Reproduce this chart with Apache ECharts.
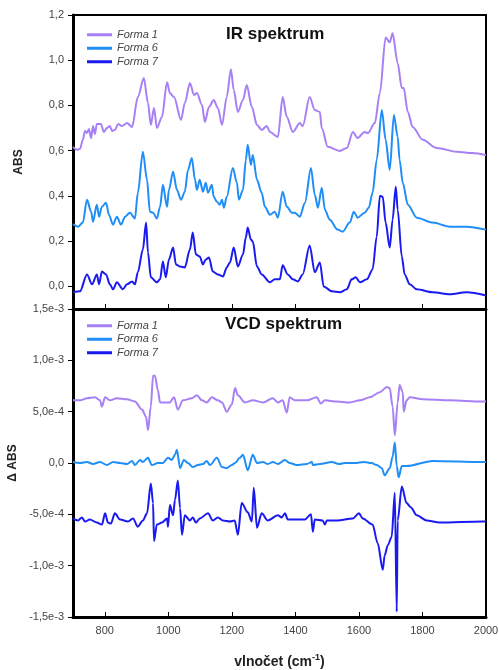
<!DOCTYPE html>
<html>
<head>
<meta charset="utf-8">
<script src="https://cdn.jsdelivr.net/npm/echarts@6/dist/echarts.min.js"></script>
<style>
  html, body { margin: 0; padding: 0; background: #fff; }
  #main { width: 499px; height: 670px; }
</style>
</head>
<body>
<div id="main"></div>
<script>
// wavenumber axis (cm-1)
const xTicks = [800, 1000, 1200, 1400, 1600, 1800, 2000];
const irTicks = [0, 0.2, 0.4, 0.6, 0.8, 1.0, 1.2];
// VCD axis is kept in units of 1e-4
const vcdTicks = [-15, -10, -5, 0, 5, 10, 15];
const vcdTickLabels = ['-1,5e-3', '-1,0e-3', '-5,0e-4', '0,0', '5,0e-4', '1,0e-3', '1,5e-3'];
const names = ['Forma 1', 'Forma 6', 'Forma 7'];
const colors = ['#a680f4', '#1f8ef6', '#1a1af0'];

// IR spektrum, ABS
const irForma1 = [[700,0.617],[713,0.604],[722,0.608],[731,0.648],[738,0.687],[744,0.678],[750,0.696],[757,0.656],[763,0.709],[769,0.674],[775,0.718],[788,0.718],[797,0.683],[807,0.700],[816,0.709],[823,0.687],[832,0.692],[842,0.718],[854,0.709],[870,0.722],[886,0.705],[904,0.837],[923,0.921],[936,0.811],[945,0.714],[955,0.789],[964,0.700],[980,0.749],[996,0.903],[1005,0.855],[1018,0.837],[1040,0.736],[1052,0.811],[1068,0.899],[1081,0.846],[1090,0.855],[1106,0.802],[1115,0.727],[1128,0.793],[1143,0.824],[1156,0.789],[1169,0.714],[1184,0.837],[1197,0.960],[1206,0.868],[1219,0.771],[1235,0.824],[1247,0.890],[1263,0.793],[1279,0.714],[1294,0.692],[1310,0.709],[1320,0.683],[1345,0.661],[1360,0.837],[1373,0.749],[1392,0.683],[1414,0.722],[1423,0.709],[1445,0.837],[1461,0.780],[1477,0.771],[1483,0.700],[1502,0.617],[1540,0.599],[1562,0.612],[1581,0.683],[1596,0.656],[1618,0.683],[1628,0.678],[1650,0.722],[1666,0.855],[1684,1.101],[1697,1.079],[1706,1.119],[1722,0.987],[1735,0.877],[1741,0.877],[1754,0.771],[1769,0.705],[1801,0.648],[1845,0.612],[1908,0.595],[1958,0.590],[2000,0.581]];
const irForma6 = [[700,0.275],[716,0.264],[731,0.282],[744,0.383],[757,0.330],[763,0.286],[775,0.361],[782,0.308],[791,0.352],[804,0.370],[813,0.317],[826,0.273],[838,0.308],[851,0.273],[864,0.308],[879,0.326],[895,0.300],[904,0.414],[920,0.595],[933,0.471],[942,0.330],[952,0.326],[964,0.300],[974,0.352],[983,0.449],[996,0.352],[1002,0.427],[1015,0.507],[1027,0.427],[1040,0.383],[1052,0.419],[1062,0.515],[1074,0.568],[1084,0.471],[1090,0.427],[1099,0.471],[1109,0.419],[1118,0.458],[1125,0.414],[1137,0.449],[1143,0.396],[1153,0.374],[1162,0.361],[1169,0.383],[1175,0.348],[1184,0.396],[1203,0.524],[1216,0.458],[1222,0.383],[1235,0.427],[1244,0.559],[1250,0.626],[1260,0.537],[1266,0.581],[1279,0.471],[1294,0.414],[1304,0.352],[1320,0.317],[1335,0.330],[1345,0.304],[1360,0.419],[1373,0.352],[1389,0.326],[1398,0.326],[1414,0.308],[1430,0.370],[1449,0.524],[1461,0.405],[1471,0.348],[1483,0.436],[1493,0.339],[1508,0.295],[1533,0.251],[1549,0.242],[1571,0.282],[1584,0.330],[1596,0.304],[1618,0.326],[1631,0.348],[1643,0.414],[1656,0.559],[1672,0.780],[1684,0.648],[1697,0.515],[1710,0.758],[1722,0.661],[1728,0.559],[1738,0.458],[1754,0.361],[1782,0.304],[1832,0.282],[1886,0.264],[1939,0.264],[2000,0.251]];
const irForma7 = [[700,-0.026],[722,-0.022],[744,0.053],[760,0.009],[775,0.053],[782,0.009],[791,0.066],[804,0.053],[816,0.009],[826,-0.013],[838,0.018],[857,-0.013],[870,0.009],[886,0.022],[895,0.009],[904,0.062],[920,0.163],[930,0.282],[936,0.150],[945,0.040],[964,0.018],[974,0.031],[983,0.110],[992,0.040],[1002,0.119],[1015,0.172],[1024,0.097],[1037,0.088],[1052,0.084],[1068,0.163],[1077,0.238],[1087,0.141],[1099,0.132],[1109,0.097],[1118,0.119],[1128,0.128],[1140,0.066],[1156,0.053],[1172,0.044],[1184,0.084],[1194,0.106],[1206,0.172],[1219,0.088],[1235,0.141],[1244,0.216],[1250,0.260],[1260,0.207],[1266,0.198],[1279,0.088],[1294,0.053],[1320,0.018],[1335,0.031],[1351,0.031],[1360,0.093],[1376,0.053],[1392,0.031],[1408,0.022],[1423,0.053],[1445,0.181],[1461,0.062],[1477,0.106],[1489,0.000],[1515,-0.022],[1540,-0.026],[1562,-0.013],[1577,0.031],[1590,0.040],[1603,0.018],[1625,0.031],[1643,0.075],[1656,0.220],[1666,0.401],[1675,0.396],[1684,0.282],[1697,0.172],[1706,0.295],[1716,0.441],[1722,0.339],[1735,0.132],[1744,0.053],[1760,0.009],[1782,-0.013],[1832,-0.026],[1886,-0.035],[1939,-0.026],[2000,-0.040]];

// VCD spektrum, delta ABS (x 1e-4)
const vcdForma1 = [[700,6.1],[722,6.1],[744,6.3],[769,6.4],[785,6.1],[791,5.5],[801,6.4],[816,6.1],[838,6.3],[870,6.2],[895,6.0],[917,5.2],[930,4.5],[936,3.2],[945,5.5],[952,8.5],[958,8.5],[967,7.1],[974,5.9],[989,5.9],[1005,5.9],[1018,6.4],[1030,5.2],[1046,6.1],[1074,6.3],[1090,6.6],[1106,6.1],[1121,5.9],[1137,6.4],[1156,6.1],[1169,5.9],[1184,5.0],[1200,5.7],[1210,7.3],[1219,6.6],[1241,5.9],[1266,6.1],[1298,5.9],[1329,6.3],[1345,5.9],[1360,6.1],[1373,4.9],[1382,6.4],[1398,6.1],[1436,6.1],[1467,6.4],[1480,5.8],[1493,6.1],[1530,6.0],[1571,5.9],[1603,6.1],[1634,6.4],[1666,6.9],[1688,7.4],[1697,7.3],[1706,5.5],[1713,2.7],[1722,5.9],[1728,7.6],[1738,6.9],[1741,5.0],[1750,6.1],[1760,6.4],[1801,6.2],[1886,6.1],[1989,6.0],[2000,6.0]];
const vcdForma6 = [[700,0.1],[722,0.0],[744,0.1],[763,-0.1],[785,0.1],[807,-0.2],[826,0.1],[848,0.0],[870,-0.1],[886,0.2],[895,-0.2],[911,0.3],[920,0.1],[936,0.5],[948,-0.2],[967,0.0],[983,0.0],[999,0.5],[1011,0.3],[1021,0.8],[1027,1.3],[1037,-0.5],[1049,0.3],[1062,0.0],[1077,-0.4],[1093,-0.2],[1109,-0.1],[1121,0.2],[1131,-0.2],[1153,0.5],[1169,-0.4],[1184,-0.5],[1200,-0.2],[1210,0.0],[1225,0.5],[1235,0.8],[1250,-0.7],[1266,0.8],[1279,0.0],[1298,0.1],[1313,-0.1],[1329,0.1],[1345,-0.1],[1367,0.3],[1382,0.0],[1404,-0.2],[1436,-0.1],[1452,0.1],[1455,-0.2],[1477,-0.1],[1515,0.1],[1537,-0.1],[1556,0.0],[1587,0.0],[1615,0.1],[1640,0.0],[1656,-0.2],[1672,-0.5],[1681,-1.2],[1697,-0.5],[1706,0.6],[1713,2.0],[1719,-0.3],[1725,-1.4],[1735,-0.3],[1750,-0.3],[1832,0.2],[1989,0.1],[2000,0.1]];
const vcdForma7 = [[700,-5.4],[716,-5.6],[728,-5.3],[738,-5.7],[753,-5.5],[775,-5.8],[791,-6.0],[801,-4.9],[810,-5.8],[819,-5.9],[832,-4.9],[848,-5.5],[873,-5.7],[889,-5.4],[904,-6.2],[920,-5.6],[933,-4.9],[945,-2.0],[952,-3.9],[955,-7.6],[964,-6.0],[980,-5.8],[996,-5.4],[999,-6.2],[1005,-4.1],[1015,-5.1],[1021,-3.6],[1030,-1.7],[1037,-4.4],[1043,-7.0],[1052,-5.1],[1068,-5.6],[1077,-5.3],[1087,-5.8],[1099,-5.4],[1125,-4.9],[1140,-5.6],[1156,-5.3],[1172,-5.6],[1194,-5.7],[1209,-5.6],[1219,-7.0],[1231,-3.9],[1250,-4.8],[1263,-5.7],[1269,-2.4],[1279,-6.3],[1294,-4.9],[1313,-5.6],[1345,-5.1],[1357,-5.3],[1367,-4.9],[1376,-5.5],[1404,-5.5],[1430,-5.5],[1449,-5.0],[1455,-6.7],[1461,-5.5],[1486,-5.6],[1493,-6.0],[1499,-5.6],[1530,-5.6],[1581,-5.4],[1600,-4.9],[1612,-5.4],[1643,-6.0],[1659,-7.8],[1675,-10.4],[1681,-9.0],[1691,-8.0],[1703,-7.2],[1713,-2.9],[1719,-14.5],[1722,-5.6],[1735,-2.3],[1750,-3.9],[1763,-4.3],[1782,-5.1],[1813,-5.6],[1854,-5.8],[1989,-5.7],[2000,-5.7]];

const irData = [irForma1, irForma6, irForma7];
const vcdData = [vcdForma1, vcdForma6, vcdForma7];

const FONT = 'Liberation Sans, Arial, sans-serif';

function xAxisFor(gridIndex, showLabels) {
  return {
    type: 'value', gridIndex: gridIndex, min: 700, max: 2000,
    axisLine: { onZero: false, lineStyle: { color: '#000', width: 3 } },
    axisTick: { inside: true, length: 5, customValues: xTicks, lineStyle: { color: '#000', width: 1 } },
    axisLabel: {
      show: showLabels, customValues: xTicks, margin: 8,
      color: '#444', fontSize: 11, fontFamily: FONT,
      formatter: function (v) { return String(v); }
    },
    splitLine: { show: false },
    name: showLabels ? '{a|vlnočet (cm}{s|-1}{a|)}' : '',
    nameLocation: 'middle', nameGap: 36,
    nameTextStyle: {
      rich: {
        a: { fontSize: 14, fontWeight: 'bold', color: '#222', fontFamily: FONT, lineHeight: 18 },
        s: { fontSize: 9, fontWeight: 'bold', color: '#222', fontFamily: FONT, verticalAlign: 'top', lineHeight: 10 }
      }
    }
  };
}

const chart = echarts.init(document.getElementById('main'));

const series = [];
names.forEach(function (n, i) {
  series.push({
    name: n, type: 'line', xAxisIndex: 0, yAxisIndex: 0,
    data: irData[i], showSymbol: false, symbol: 'none',
    smooth: 0.3, smoothMonotone: 'x',
    lineStyle: { color: colors[i], width: 2 }, itemStyle: { color: colors[i] }
  });
});
names.forEach(function (n, i) {
  series.push({
    name: n, type: 'line', xAxisIndex: 1, yAxisIndex: 1,
    data: vcdData[i], showSymbol: false, symbol: 'none',
    smooth: 0.3, smoothMonotone: 'x',
    lineStyle: { color: colors[i], width: 2 }, itemStyle: { color: colors[i] }
  });
});

function legendAt(top) {
  return {
    data: names, orient: 'vertical', left: 87, top: top, padding: 0,
    icon: 'rect', itemWidth: 25, itemHeight: 3, itemGap: 0,
    textStyle: { fontSize: 11, lineHeight: 13.5, fontStyle: 'italic', color: '#444', fontFamily: FONT },
    selectedMode: false
  };
}

chart.setOption({
  animation: false,
  backgroundColor: '#fff',
  title: [
    { text: 'IR spektrum', left: 221, top: 21, textStyle: { fontSize: 17, fontWeight: 'bold', color: '#111', fontFamily: FONT } },
    { text: 'VCD spektrum', left: 220, top: 311, textStyle: { fontSize: 17, fontWeight: 'bold', color: '#111', fontFamily: FONT } }
  ],
  legend: [legendAt(28), legendAt(319)],
  grid: [
    { left: 73, top: 15, width: 413, height: 294, show: true, borderColor: '#000', borderWidth: 2, outerBoundsMode: 'none' },
    { left: 73, top: 309, width: 413, height: 308, show: true, borderColor: '#000', borderWidth: 2, outerBoundsMode: 'none' }
  ],
  xAxis: [xAxisFor(0, false), xAxisFor(1, true)],
  yAxis: [
    {
      type: 'value', gridIndex: 0, min: -0.1, max: 1.2,
      name: 'ABS', nameLocation: 'middle', nameGap: 48,
      nameTextStyle: { fontSize: 12, fontWeight: 'bold', color: '#222', fontFamily: FONT },
      axisLine: { onZero: false, lineStyle: { color: '#000', width: 3 } },
      axisTick: { length: 5, customValues: irTicks, lineStyle: { color: '#000' } },
      axisLabel: {
        customValues: irTicks, margin: 9, color: '#444', fontSize: 11, fontFamily: FONT,
        formatter: function (v) { return v.toFixed(1).replace('.', ','); }
      },
      splitLine: { show: false }
    },
    {
      type: 'value', gridIndex: 1, min: -15, max: 15, interval: 5,
      name: 'Δ ABS', nameLocation: 'middle', nameGap: 48,
      nameTextStyle: { fontSize: 12, fontWeight: 'bold', color: '#222', fontFamily: FONT },
      axisLine: { onZero: false, lineStyle: { color: '#000', width: 3 } },
      axisTick: { length: 5, lineStyle: { color: '#000' } },
      axisLabel: {
        margin: 9, color: '#444', fontSize: 11, fontFamily: FONT,
        formatter: function (v) {
          const k = vcdTicks.indexOf(Math.round(v));
          return k >= 0 ? vcdTickLabels[k] : '';
        }
      },
      splitLine: { show: false }
    }
  ],
  series: series
});
</script>
</body>
</html>
